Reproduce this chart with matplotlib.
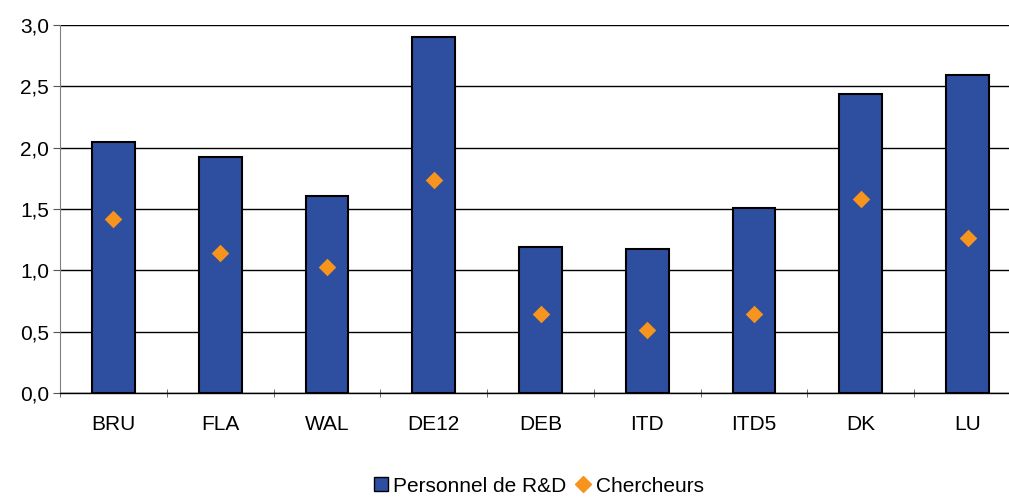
import matplotlib
matplotlib.use("Agg")
import matplotlib.pyplot as plt
import numpy as np
from matplotlib.lines import Line2D

categories = ["BRU", "FLA", "WAL", "DE12", "DEB", "ITD", "ITD5", "DK", "LU"]
personnel = [2.05, 1.92, 1.61, 2.90, 1.19, 1.17, 1.51, 2.44, 2.59]
chercheurs = [1.42, 1.14, 1.03, 1.74, 0.64, 0.51, 0.64, 1.58, 1.26]
yticks = [0.0, 0.5, 1.0, 1.5, 2.0, 2.5, 3.0]
ytick_labels = ["0,0", "0,5", "1,0", "1,5", "2,0", "2,5", "3,0"]

plt.rcParams['font.family'] = ['Liberation Sans', 'DejaVu Sans']

fig = plt.figure(figsize=(10.09, 4.97), dpi=100)
ax = fig.add_axes([60/1009, (497-393)/497, (1021-60)/1009, (393-25)/497])

x = np.arange(len(categories))
bar_color = "#2E4FA0"
dia_color = "#F7941D"
ax.bar(x, personnel, width=0.4, color=bar_color, edgecolor="black", linewidth=1.5, zorder=3)
ax.scatter(x, chercheurs, marker="D", s=80, color=dia_color, zorder=4, linewidths=0)

ax.set_xlim(-0.5, len(categories) - 0.5)
ax.set_ylim(0, 3.0)
ax.set_yticks(yticks)
ax.set_yticklabels(ytick_labels, fontsize=15)
ax.yaxis.grid(True, color="black", linewidth=1.0, zorder=0)
ax.set_axisbelow(True)

ax.set_xticks(x)
ax.set_xticklabels(categories, fontsize=15)
ax.tick_params(axis="x", length=0, pad=16)
ax.set_xticks(np.arange(-0.5, len(categories), 1.0), minor=True)
ax.tick_params(axis="x", which="minor", length=6, direction="inout", color="#555555")
ax.tick_params(axis="y", length=5, color="#555555", pad=3)

for s in ["top", "right"]:
    ax.spines[s].set_visible(False)
ax.spines["left"].set_color("#808080")
ax.spines["bottom"].set_color("black")
ax.spines["bottom"].set_linewidth(1.0)

handles = [
    Line2D([0], [0], marker="s", linestyle="none", markersize=10, markerfacecolor=bar_color, markeredgecolor="black"),
    Line2D([0], [0], marker="D", linestyle="none", markersize=8, markerfacecolor=dia_color, markeredgecolor=dia_color),
]
fig.legend(handles, ["Personnel de R&D", "Chercheurs"], loc="center", bbox_to_anchor=(537/1009, 1 - 486/497),
           ncol=2, frameon=False, fontsize=15, handletextpad=0.1, columnspacing=0.3, handlelength=1.0,
           borderpad=0, borderaxespad=0)

fig.savefig("out.png", dpi=100)
